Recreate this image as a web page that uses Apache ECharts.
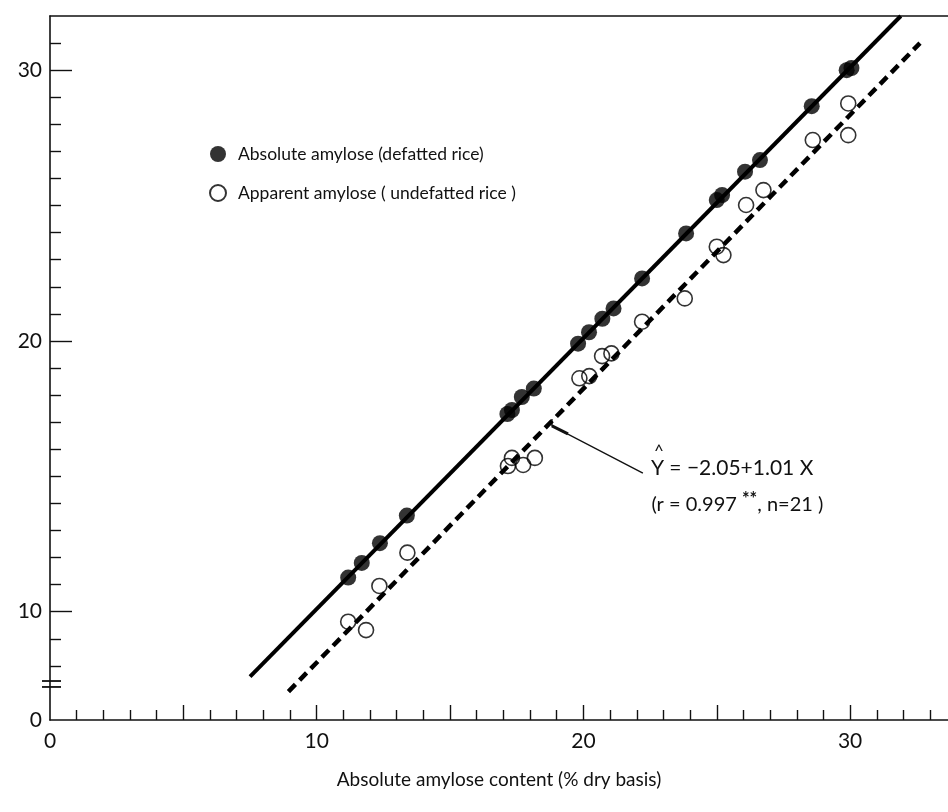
<!DOCTYPE html>
<html><head><meta charset="utf-8">
<script src="https://cdn.jsdelivr.net/npm/echarts@6/dist/echarts.min.js"></script>
<style>html,body{margin:0;padding:0;background:#fff}#c{width:948px;height:812px}</style>
</head><body><div id="c"></div>
<script>
// Absolute amylose (defatted rice) — filled circles
const absX = [11.18, 11.69, 12.37, 13.38, 17.15, 17.32, 17.69, 18.14, 19.80, 20.21, 20.71, 21.13, 22.20, 23.85, 25.00, 25.20, 26.06, 26.62, 28.56, 29.87, 30.05];
const absY = [11.26, 11.80, 12.53, 13.55, 17.30, 17.45, 17.93, 18.24, 19.90, 20.32, 20.82, 21.20, 22.31, 23.97, 25.20, 25.39, 26.25, 26.68, 28.67, 30.00, 30.08];
// Apparent amylose (undefatted rice) — open circles
const appX = [11.18, 11.85, 12.35, 13.40, 17.17, 17.32, 17.74, 18.18, 19.85, 20.22, 20.70, 21.05, 22.20, 23.80, 25.00, 25.25, 26.10, 26.75, 28.60, 29.93, 29.93];
const appY = [9.63, 9.32, 10.95, 12.18, 15.38, 15.68, 15.42, 15.68, 18.62, 18.70, 19.44, 19.54, 20.71, 21.57, 23.48, 23.17, 25.02, 25.57, 27.42, 28.77, 27.60];
// Fitted lines (end points)
const lineAbsX = [7.5, 31.9];
const lineAbsY = [7.6, 32.0];
const lineAppX = [8.94, 32.62];
const lineAppY = [7.05, 31.0];
// Axis ticks / labels
const xLabelValues = [0, 10, 20, 30];
const xMajorTicks = [5, 10, 15, 20, 25, 30];
const xMinorTicks = [1,2,3,4,6,7,8,9,11,12,13,14,16,17,18,19,21,22,23,24,26,27,28,29,31,32,33];
const yLabelValues = [6, 10, 20, 30];
const yLabelTexts = ['0', '10', '20', '30'];
const yMajorTicks = [10, 20, 30];
const yMinorTicks = [8,9,11,12,13,14,15,16,17,18,19,21,22,23,24,25,26,27,28,29,31];
const seriesNames = ['Absolute amylose (defatted rice)', 'Apparent amylose ( undefatted rice )'];
const xTitle = 'Absolute amylose content (% dry basis)';
const eqText = 'Y = \u22122.05+1.01 X';
const statText = '(r = 0.997 ';
const statText2 = ', n=21 )';

const FONT = 'Lato, "DejaVu Sans", sans-serif';
const XMIN = 0, XMAX = 33.67, YMIN = 6, YMAX = 32;
const zip = (a, b) => a.map((v, i) => [v, b[i]]);

const chart = echarts.init(document.getElementById('c'), null, {renderer: 'canvas'});
const axisLineStyle = {color: '#111', width: 1.6};
const option = {
  backgroundColor: '#fff',
  animation: false,
  grid: {left: 50, right: 0, top: 16, bottom: 92, containLabel: false},
  legend: {
    data: seriesNames,
    orient: 'vertical',
    left: 204, top: 140,
    itemWidth: 16, itemHeight: 16, itemGap: 21,
    textStyle: {fontFamily: FONT, fontSize: 17.5, color: '#111', padding: [0, 0, 0, 7]},
    selectedMode: false
  },
  xAxis: [
    {type: 'value', position: 'bottom', min: XMIN, max: XMAX,
     axisLine: {show: true, lineStyle: axisLineStyle},
     axisTick: {show: true, inside: true, length: 15, customValues: xMajorTicks, lineStyle: {color: '#111', width: 1.4}},
     axisLabel: {show: true, customValues: xLabelValues, margin: 11, fontFamily: FONT, fontSize: 21, color: '#111'},
     splitLine: {show: false},
     name: xTitle, nameLocation: 'middle', nameGap: 50,
     nameTextStyle: {fontFamily: FONT, fontSize: 19, color: '#111'}},
    {type: 'value', position: 'bottom', min: XMIN, max: XMAX,
     axisLine: {show: false},
     axisTick: {show: true, inside: true, length: 10, customValues: xMinorTicks, lineStyle: {color: '#111', width: 1.4}},
     axisLabel: {show: false}, splitLine: {show: false}},
    {type: 'value', position: 'top', min: XMIN, max: XMAX,
     axisLine: {show: true, lineStyle: axisLineStyle},
     axisTick: {show: false}, axisLabel: {show: false}, splitLine: {show: false}}
  ],
  yAxis: [
    {type: 'value', position: 'left', min: YMIN, max: YMAX,
     axisLine: {show: true, lineStyle: axisLineStyle},
     axisTick: {show: true, inside: true, length: 22, customValues: yMajorTicks, lineStyle: {color: '#111', width: 1.4}},
     axisLabel: {show: true, customValues: yLabelValues, margin: 8, fontFamily: FONT, fontSize: 21, color: '#111',
       formatter: v => { const i = yLabelValues.indexOf(v); return i >= 0 ? yLabelTexts[i] : ''; }},
     splitLine: {show: false}},
    {type: 'value', position: 'left', min: YMIN, max: YMAX,
     axisLine: {show: false},
     axisTick: {show: true, inside: true, length: 11, customValues: yMinorTicks, lineStyle: {color: '#111', width: 1.4}},
     axisLabel: {show: false}, splitLine: {show: false}}
  ],
  series: [
    {type: 'line', data: zip(lineAbsX, lineAbsY), symbol: 'none', silent: true,
     lineStyle: {color: '#000', width: 4, type: 'solid'}, z: 2},
    {type: 'line', data: zip(lineAppX, lineAppY), symbol: 'none', silent: true,
     lineStyle: {color: '#000', width: 4.5, type: [10, 6]}, z: 2},
    {name: seriesNames[0], type: 'scatter', data: zip(absX, absY), symbol: 'circle', symbolSize: 16,
     itemStyle: {color: '#000', borderColor: '#000', borderWidth: 0}, z: 3},
    {name: seriesNames[1], type: 'scatter', data: zip(appX, appY), symbol: 'circle', symbolSize: 15,
     itemStyle: {color: 'rgba(255,255,255,0)', borderColor: '#000', borderWidth: 1.6}, z: 3}
  ]
};
chart.setOption(option);

// Decorations positioned through the axes
const P = (x, y) => chart.convertToPixel({xAxisIndex: 0, yAxisIndex: 0}, [x, y]);
const b1 = P(0, 7.44), b2 = P(0, 7.22);
const a0 = P(18.82, 17.12), a1 = P(18.82, 16.86), a2 = P(22.23, 15.12);
const t1 = P(22.53, 15.3), t2 = P(22.55, 13.95);
chart.setOption({
  graphic: [
    {type: 'line', shape: {x1: b1[0] - 8, y1: b1[1], x2: b1[0] + 11, y2: b1[1]}, style: {stroke: '#111', lineWidth: 1.8}},
    {type: 'line', shape: {x1: b2[0] - 8, y1: b2[1], x2: b2[0] + 11, y2: b2[1]}, style: {stroke: '#111', lineWidth: 1.8}},
    {type: 'polyline', shape: {points: [a0, a1, a2]}, style: {stroke: '#111', lineWidth: 1.4, fill: null}},
    {type: 'line', shape: {x1: a1[0], y1: a1[1], x2: a1[0] + 16, y2: a1[1] + 8}, style: {stroke: '#111', lineWidth: 3}},
    {type: 'text', x: t1[0] + 3, y: t1[1] - 17, style: {text: '^', font: '17px ' + FONT, fill: '#111', textAlign: 'left', textVerticalAlign: 'middle'}},
    {type: 'text', x: t1[0], y: t1[1], style: {text: eqText, font: '21px ' + FONT, fill: '#111', textAlign: 'left', textVerticalAlign: 'middle'}},
    {type: 'text', x: t2[0], y: t2[1], style: {
      rich: {n: {font: '20px ' + FONT, fill: '#111'}, s: {font: 'bold 18px ' + FONT, fill: '#111', verticalAlign: 'top', padding: [0, 0, 12, 0]}},
      text: '{n|' + statText + '}{s|**}{n|' + statText2 + '}', textAlign: 'left', textVerticalAlign: 'middle'}}
  ]
});
</script></body></html>
